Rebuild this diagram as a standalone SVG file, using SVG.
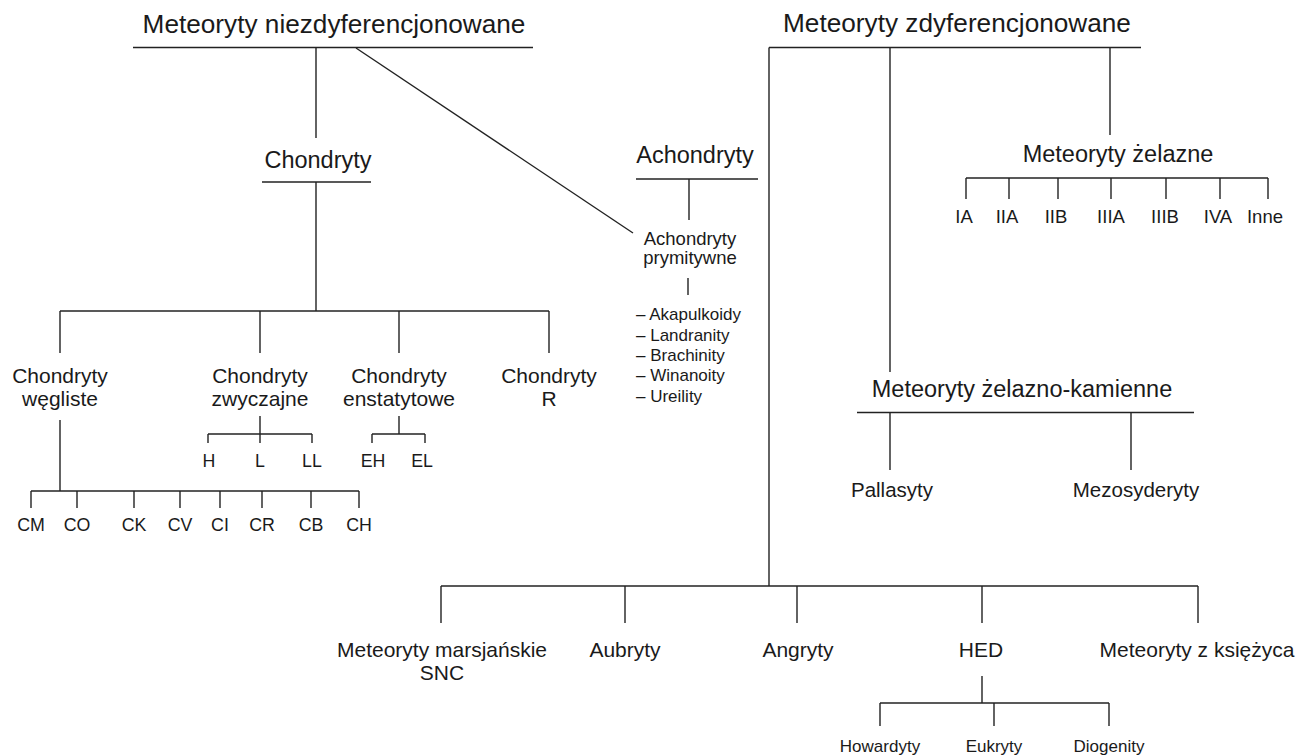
<svg xmlns="http://www.w3.org/2000/svg" width="1300" height="756" viewBox="0 0 1300 756">
<style>
  text { font-family: "Liberation Sans", Arial, sans-serif; fill: #1a1a1a; }
  .c { text-anchor: middle; }
  .t1 { font-size: 26.2px; }
  .t2 { font-size: 23.5px; }
  .t3 { font-size: 21px; }
  .t4 { font-size: 18.5px; }
  .t5 { font-size: 17.8px; }
  .t6 { font-size: 17px; }
  .pl { font-size: 20.5px; }
  line { stroke: #222222; stroke-width: 1.4; fill: none; }
</style>
<rect width="1300" height="756" fill="#ffffff"/>

<g id="connectors">
  <line x1="133" y1="47.5" x2="533" y2="47.5"/>
  <line x1="769" y1="47.5" x2="1141" y2="47.5"/>
  <line x1="316" y1="47.5" x2="316" y2="138"/>
  <line x1="356" y1="48" x2="633" y2="233"/>
  <line x1="262" y1="182" x2="371" y2="182"/>
  <line x1="316" y1="182" x2="316" y2="311"/>
  <line x1="60" y1="311" x2="549" y2="311"/>
  <line x1="60" y1="311" x2="60" y2="353"/>
  <line x1="260" y1="311" x2="260" y2="353"/>
  <line x1="399" y1="311" x2="399" y2="353"/>
  <line x1="549" y1="311" x2="549" y2="353"/>
  <line x1="60" y1="420" x2="60" y2="491"/>
  <line x1="31" y1="491" x2="359" y2="491"/>
  <line x1="31" y1="491" x2="31" y2="508"/>
  <line x1="77" y1="491" x2="77" y2="508"/>
  <line x1="134" y1="491" x2="134" y2="508"/>
  <line x1="180" y1="491" x2="180" y2="508"/>
  <line x1="220" y1="491" x2="220" y2="508"/>
  <line x1="262" y1="491" x2="262" y2="508"/>
  <line x1="311" y1="491" x2="311" y2="508"/>
  <line x1="359" y1="491" x2="359" y2="508"/>
  <line x1="260" y1="416" x2="260" y2="434"/>
  <line x1="208" y1="434" x2="312" y2="434"/>
  <line x1="208" y1="434" x2="208" y2="443"/>
  <line x1="312" y1="434" x2="312" y2="443"/>
  <line x1="260" y1="434" x2="260" y2="443"/>
  <line x1="399" y1="416" x2="399" y2="434"/>
  <line x1="372" y1="434" x2="425" y2="434"/>
  <line x1="372" y1="434" x2="372" y2="443"/>
  <line x1="425" y1="434" x2="425" y2="443"/>
  <line x1="636" y1="179" x2="758" y2="179"/>
  <line x1="689" y1="179" x2="689" y2="220"/>
  <line x1="688" y1="278" x2="688" y2="295"/>
  <line x1="769" y1="47.5" x2="769" y2="586"/>
  <line x1="890" y1="47.5" x2="890" y2="372"/>
  <line x1="1110" y1="47.5" x2="1110" y2="135"/>
  <line x1="966" y1="178" x2="1268" y2="178"/>
  <line x1="966" y1="178" x2="966" y2="199"/>
  <line x1="1009" y1="178" x2="1009" y2="199"/>
  <line x1="1058" y1="178" x2="1058" y2="199"/>
  <line x1="1111" y1="178" x2="1111" y2="199"/>
  <line x1="1166" y1="178" x2="1166" y2="199"/>
  <line x1="1220" y1="178" x2="1220" y2="199"/>
  <line x1="1268" y1="178" x2="1268" y2="199"/>
  <line x1="857" y1="412.5" x2="1194" y2="412.5"/>
  <line x1="890" y1="412.5" x2="890" y2="470"/>
  <line x1="1131" y1="412.5" x2="1131" y2="470"/>
  <line x1="441" y1="586" x2="1198" y2="586"/>
  <line x1="441" y1="586" x2="441" y2="623"/>
  <line x1="625" y1="586" x2="625" y2="623"/>
  <line x1="797" y1="586" x2="797" y2="623"/>
  <line x1="982" y1="586" x2="982" y2="623"/>
  <line x1="1198" y1="586" x2="1198" y2="623"/>
  <line x1="982" y1="676" x2="982" y2="703"/>
  <line x1="880" y1="703" x2="1109" y2="703"/>
  <line x1="880" y1="703" x2="880" y2="726"/>
  <line x1="994" y1="703" x2="994" y2="726"/>
  <line x1="1109" y1="703" x2="1109" y2="726"/>
</g>

<g id="n-niezdyf"><text class="c t1" x="334" y="33">Meteoryty niezdyferencjonowane</text></g>
<g id="n-zdyf"><text class="c t1" x="957" y="32">Meteoryty zdyferencjonowane</text></g>
<g id="n-chondryty"><text class="c t2" x="318" y="168">Chondryty</text></g>
<g id="n-achondryty"><text class="c t2" x="695" y="163">Achondryty</text></g>
<g id="n-achondryty-pr">
  <text class="c t4" x="690" y="245">Achondryty</text>
  <text class="c t4" x="690" y="264">prymitywne</text>
</g>
<g id="n-achondryty-list">
  <text class="t6" x="636" y="320">– Akapulkoidy</text>
  <text class="t6" x="636" y="340.5">– Landranity</text>
  <text class="t6" x="636" y="361">– Brachinity</text>
  <text class="t6" x="636" y="381">– Winanoity</text>
  <text class="t6" x="636" y="401.5">– Ureility</text>
</g>
<g id="n-wegliste"><text class="c t3" x="60" y="383">Chondryty</text><text class="c t3" x="60" y="406">węgliste</text></g>
<g id="n-zwyczajne"><text class="c t3" x="260" y="383">Chondryty</text><text class="c t3" x="260" y="406">zwyczajne</text></g>
<g id="n-enstatytowe"><text class="c t3" x="399" y="383">Chondryty</text><text class="c t3" x="399" y="406">enstatytowe</text></g>
<g id="n-R"><text class="c t3" x="549" y="383">Chondryty</text><text class="c t3" x="549" y="406">R</text></g>
<g id="n-cc-groups">
  <text class="c t5" x="31" y="531">CM</text>
  <text class="c t5" x="77" y="531">CO</text>
  <text class="c t5" x="134" y="531">CK</text>
  <text class="c t5" x="180" y="531">CV</text>
  <text class="c t5" x="220" y="531">CI</text>
  <text class="c t5" x="262" y="531">CR</text>
  <text class="c t5" x="311" y="531">CB</text>
  <text class="c t5" x="359" y="531">CH</text>
</g>
<g id="n-oc-groups">
  <text class="c t5" x="209" y="467">H</text>
  <text class="c t5" x="260" y="467">L</text>
  <text class="c t5" x="312" y="467">LL</text>
</g>
<g id="n-ec-groups">
  <text class="c t5" x="373" y="467">EH</text>
  <text class="c t5" x="422" y="467">EL</text>
</g>
<g id="n-zelazne"><text class="c t2" x="1118" y="162">Meteoryty żelazne</text></g>
<g id="n-iron-groups">
  <text class="c t4" x="964" y="223">IA</text>
  <text class="c t4" x="1007" y="223">IIA</text>
  <text class="c t4" x="1056" y="223">IIB</text>
  <text class="c t4" x="1111" y="223">IIIA</text>
  <text class="c t4" x="1165" y="223">IIIB</text>
  <text class="c t4" x="1218" y="223">IVA</text>
  <text class="c t4" x="1265" y="223">Inne</text>
</g>
<g id="n-zel-kam"><text class="c t2" x="1022" y="397">Meteoryty żelazno-kamienne</text></g>
<g id="n-pallasyty"><text class="c pl" x="892" y="497">Pallasyty</text></g>
<g id="n-mezosyderyty"><text class="c pl" x="1136" y="497">Mezosyderyty</text></g>
<g id="n-marsjanskie"><text class="c t3" x="442" y="657">Meteoryty marsjańskie</text><text class="c t3" x="442" y="680">SNC</text></g>
<g id="n-aubryty"><text class="c t3" x="625" y="657">Aubryty</text></g>
<g id="n-angryty"><text class="c t3" x="798" y="657">Angryty</text></g>
<g id="n-hed"><text class="c t3" x="981" y="657">HED</text></g>
<g id="n-ksiezyc"><text class="c t3" x="1197" y="657">Meteoryty z księżyca</text></g>
<g id="n-howardyty"><text class="c t6" x="880" y="752">Howardyty</text></g>
<g id="n-eukryty"><text class="c t6" x="994" y="752">Eukryty</text></g>
<g id="n-diogenity"><text class="c t6" x="1109" y="752">Diogenity</text></g>
</svg>
